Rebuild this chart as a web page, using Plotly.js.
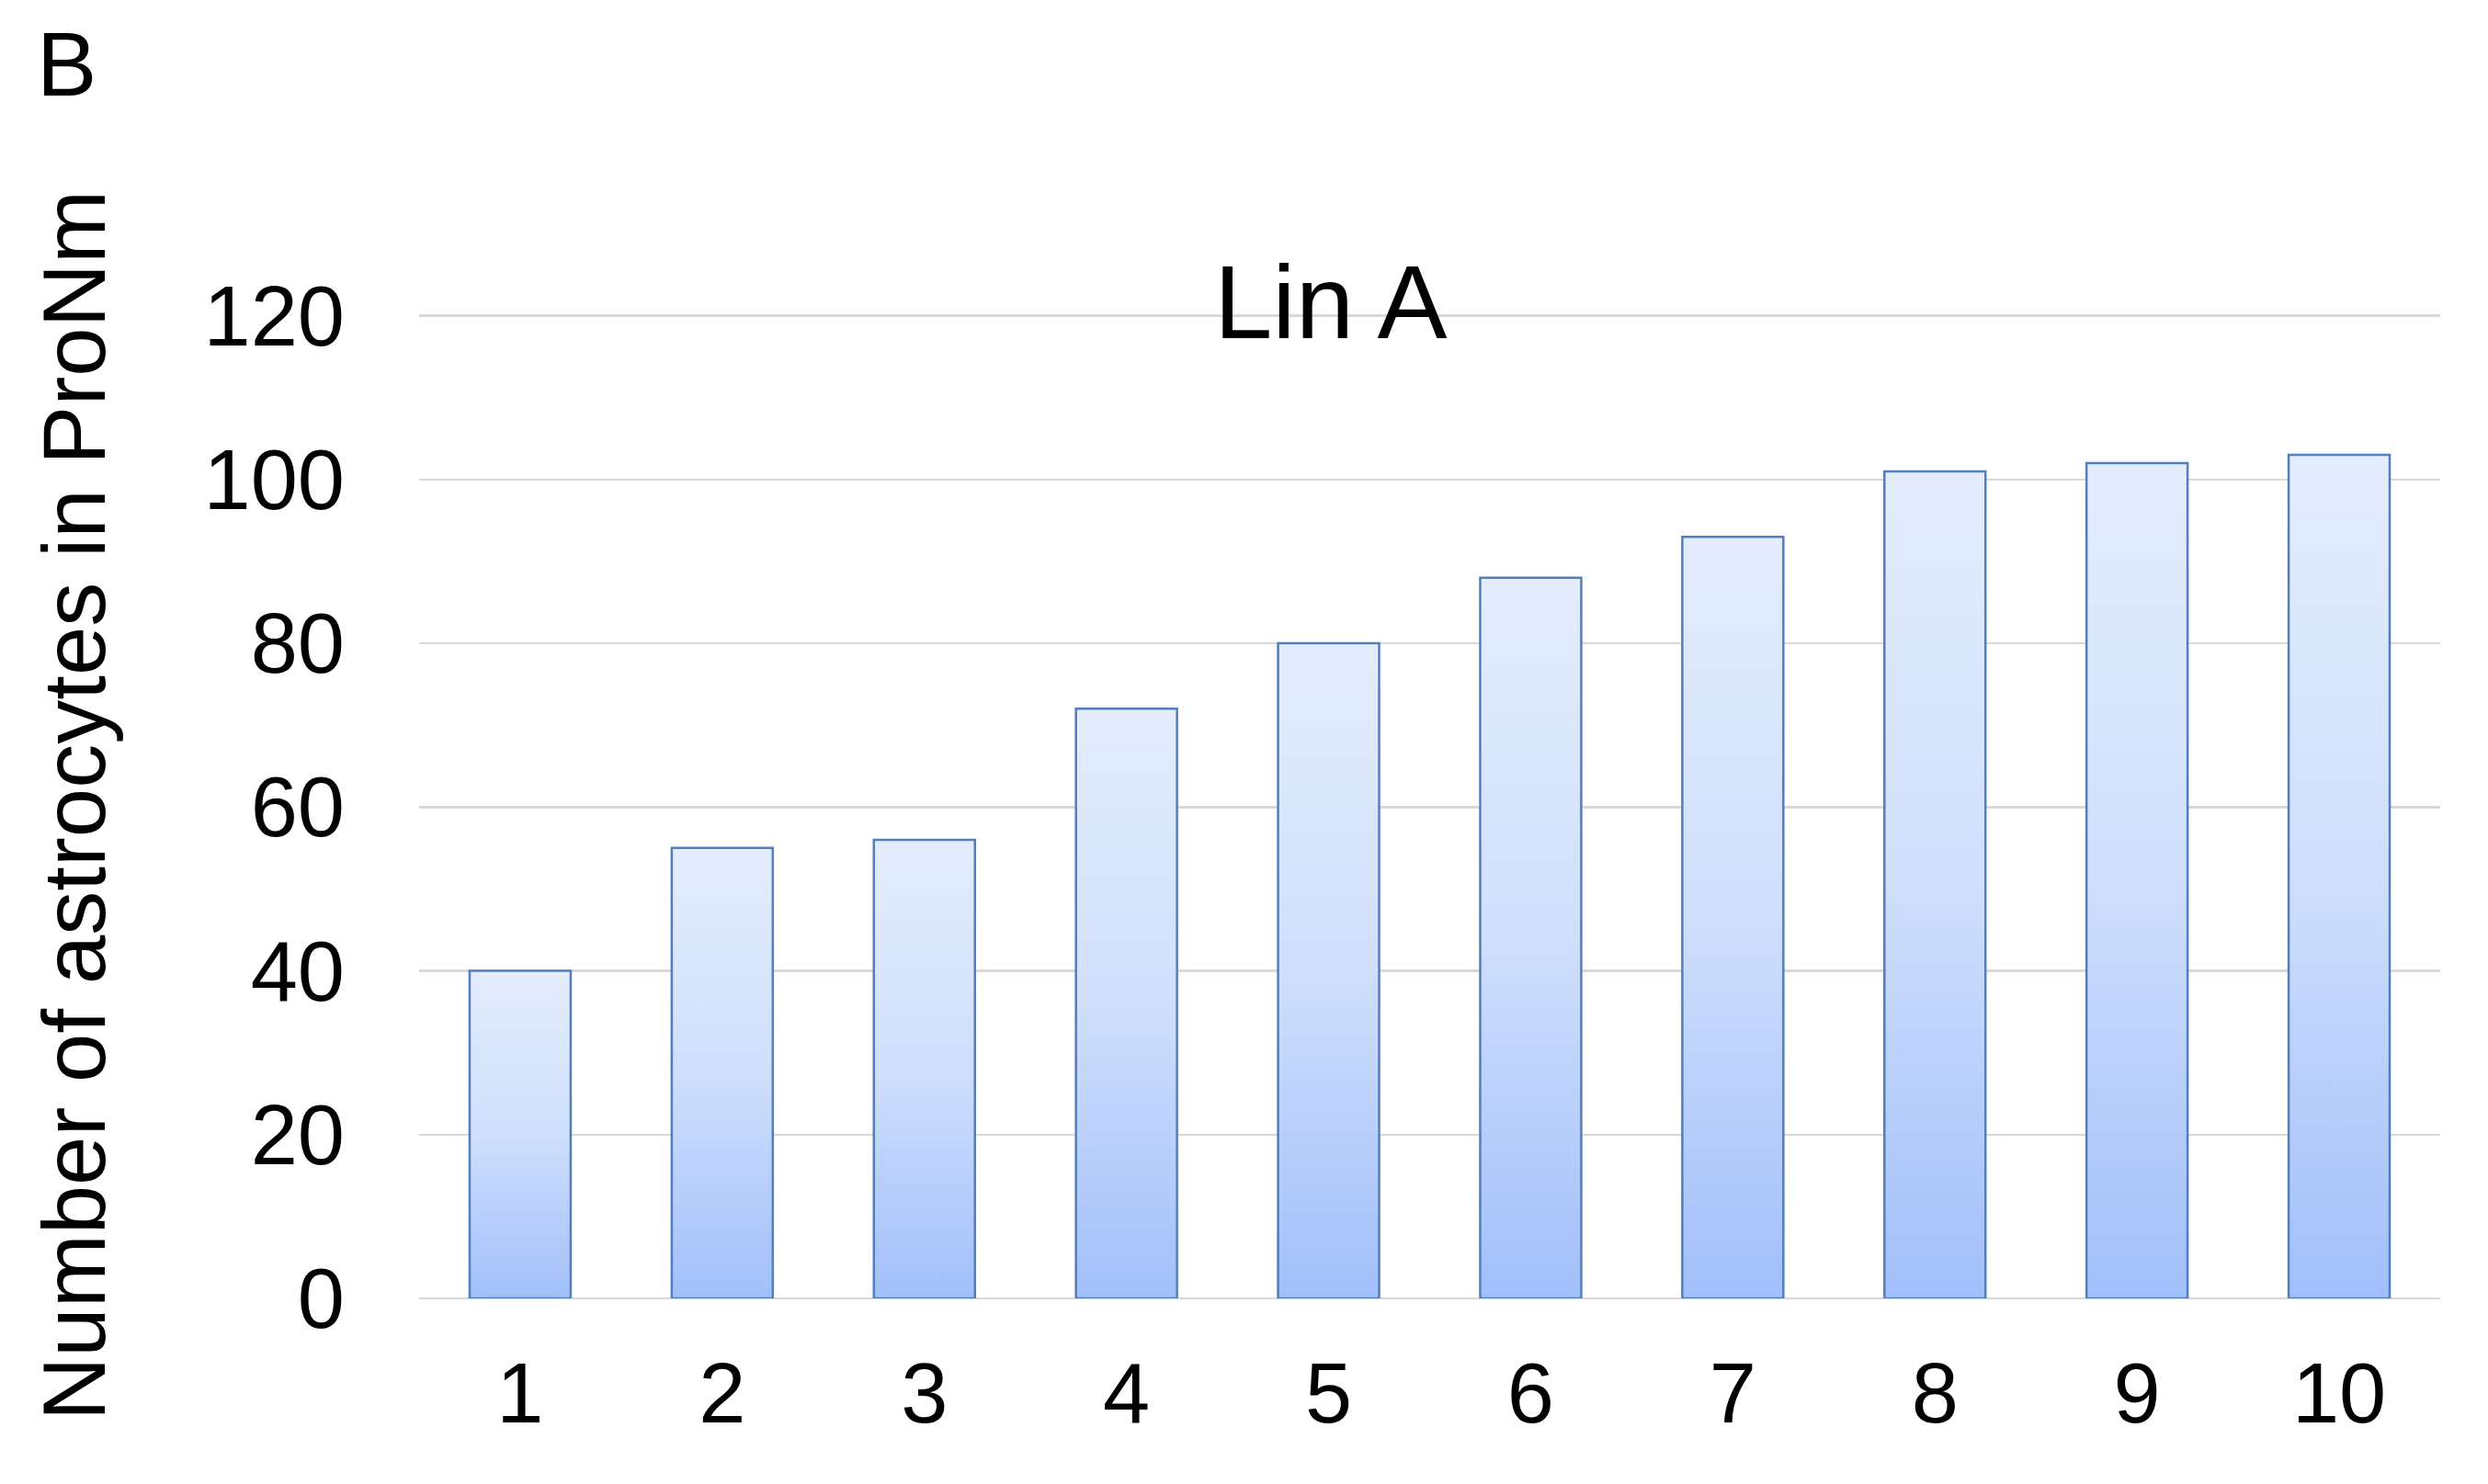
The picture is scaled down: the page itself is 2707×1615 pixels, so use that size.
<!DOCTYPE html>
<html>
<head>
<meta charset="utf-8">
<script src="https://cdn.plot.ly/plotly-3.0.1.min.js"></script>
<style>
  html, body { margin: 0; padding: 0; background: #ffffff; }
  #chart { width: 2707px; height: 1615px; }
</style>
</head>
<body>
<div id="chart"></div>
<script>
// ---- data ----
const categories = ["1", "2", "3", "4", "5", "6", "7", "8", "9", "10"];
const astrocyteCounts = [40, 55, 56, 72, 80, 88, 93, 101, 102, 103];
const yTickValues = [0, 20, 40, 60, 80, 100, 120];
const chartTitle = "Lin A";
const yAxisTitle = "Number of astrocytes in ProNm";
const panelLabel = "B";

const FONT = "Liberation Sans, Arial, Helvetica, sans-serif";

const trace = {
  type: "bar",
  x: categories,
  y: astrocyteCounts,
  marker: {
    color: "#c3d6fb",
    line: { color: "#4f7fc0", width: 2.5 }
  },
  hoverinfo: "x+y"
};

const layout = {
  width: 2707,
  height: 1615,
  margin: { l: 456, r: 52, t: 340, b: 202 },
  paper_bgcolor: "#ffffff",
  plot_bgcolor: "#ffffff",
  showlegend: false,
  bargap: 0.5,
  font: { family: FONT, color: "#000000" },
  title: {
    text: chartTitle,
    font: { family: FONT, size: 114, color: "#000000" },
    x: 0.451, xref: "paper", xanchor: "center",
    y: 0.797, yref: "container", yanchor: "middle"
  },
  xaxis: {
    type: "category",
    range: [-0.5, 9.5],
    showgrid: false,
    showline: false,
    zeroline: false,
    ticks: "",
    tickfont: { family: FONT, size: 92, color: "#000000" },
    ticklabelstandoff: 42
  },
  yaxis: {
    range: [0, 120.4],
    tickvals: yTickValues,
    ticktext: yTickValues.map(String),
    showgrid: true,
    gridcolor: "#d9d9d9",
    gridwidth: 2.5,
    zeroline: true,
    zerolinecolor: "#d9d9d9",
    zerolinewidth: 2.5,
    showline: false,
    ticks: "",
    tickfont: { family: FONT, size: 92, color: "#000000" },
    ticklabelstandoff: 80,
    automargin: false,
    title: {
      text: yAxisTitle,
      font: { family: FONT, size: 96, color: "#000000" },
      standoff: 74
    }
  },
  annotations: [
    {
      text: panelLabel,
      xref: "paper", yref: "paper",
      x: -0.19, y: 1.252,
      xanchor: "left", yanchor: "middle",
      showarrow: false,
      font: { family: FONT, size: 98, color: "#000000" }
    }
  ]
};

Plotly.newPlot("chart", [trace], layout, { displayModeBar: false, staticPlot: true }).then(function (gd) {
  // vertical gradient fill for each bar (light top, deeper blue bottom)
  const svg = gd.querySelector("svg.main-svg");
  const ns = "http://www.w3.org/2000/svg";
  let defs = svg.querySelector("defs");
  if (!defs) { defs = document.createElementNS(ns, "defs"); svg.insertBefore(defs, svg.firstChild); }
  const grad = document.createElementNS(ns, "linearGradient");
  grad.setAttribute("id", "barGrad");
  grad.setAttribute("x1", "0"); grad.setAttribute("y1", "0");
  grad.setAttribute("x2", "0"); grad.setAttribute("y2", "1");
  [["0%", "#e4edfd"], ["50%", "#cfdffc"], ["100%", "#a1bffa"]].forEach(function (s) {
    const st = document.createElementNS(ns, "stop");
    st.setAttribute("offset", s[0]);
    st.setAttribute("stop-color", s[1]);
    grad.appendChild(st);
  });
  defs.appendChild(grad);
  gd.querySelectorAll(".barlayer .point path").forEach(function (p) {
    p.style.fill = "url(#barGrad)";
    p.style.fillOpacity = "1";
  });
});
</script>
</body>
</html>
